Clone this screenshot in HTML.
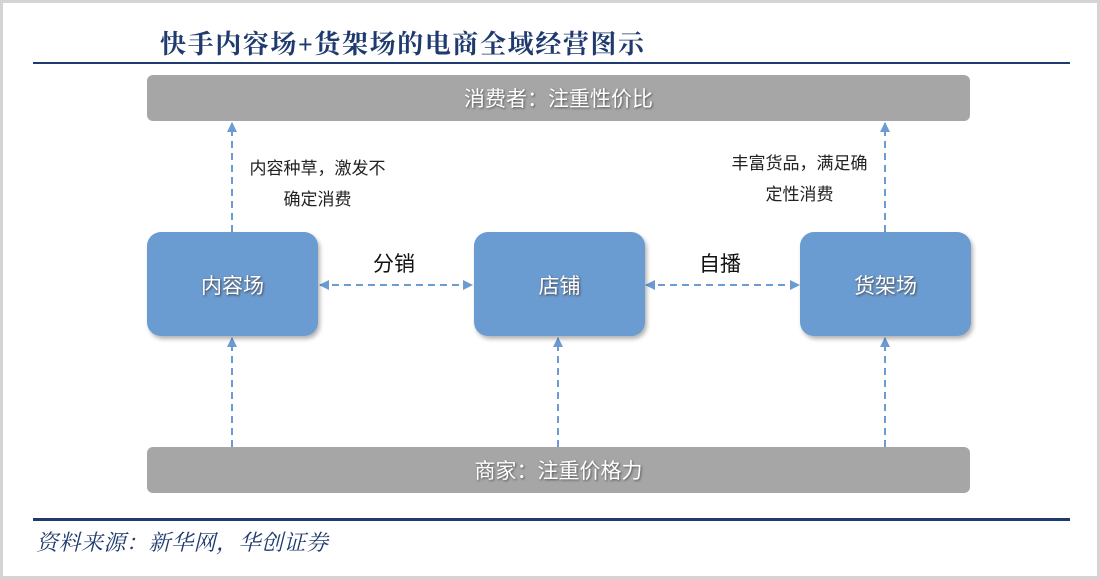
<!DOCTYPE html>
<html><head><meta charset="utf-8"><style>
body{margin:0;width:1100px;height:579px;background:#fff;position:relative;overflow:hidden;font-family:"Liberation Sans","Noto Sans CJK SC",sans-serif}
.frame{position:absolute;left:0;top:0;width:1094px;height:573px;border:3px solid #d4d4d4}
.title{position:absolute;left:160px;top:24px;font-family:"Liberation Serif","Noto Serif CJK SC",serif;font-weight:bold;font-size:26px;color:#1f3a6e;letter-spacing:1.6px}
.hl{position:absolute;left:33px;width:1037px;background:#1f3a6e}
.bar{position:absolute;left:147px;width:823px;height:46px;background:#a6a6a6;border-radius:6px;color:#fff;font-size:21px;text-align:center;line-height:50px;text-shadow:1px 1px 2px #555}
.box{position:absolute;top:232px;width:171px;height:104px;background:#6a9bd1;border-radius:14px;color:#fff;font-size:21px;text-align:center;line-height:110px;box-shadow:2px 3px 4px rgba(0,0,0,.3);text-shadow:1px 1px 2px #444}
.t{position:absolute;font-size:17px;color:#222;line-height:31px;text-align:center}
.lab{position:absolute;font-size:21px;color:#111}
.src{position:absolute;left:36px;top:526px;font-family:"Liberation Serif","Noto Serif CJK SC",serif;font-style:italic;font-size:22px;color:#1f3a6e;letter-spacing:0.5px}
</style></head><body>
<div class="frame"></div>
<div class="title">快手内容场+货架场的电商全域经营图示</div>
<div class="hl" style="top:62px;height:2px"></div>
<div class="bar" style="top:75px">消费者：注重性价比</div>
<div class="bar" style="top:447px">商家：注重价格力</div>
<svg style="position:absolute;left:0;top:0" width="1100" height="579">
<defs>
<marker id="a" markerWidth="10" markerHeight="10" refX="9" refY="5" orient="auto" markerUnits="userSpaceOnUse"><path d="M0,0L10,5L0,10z" fill="#6a9bd1"/></marker>
<marker id="b" markerWidth="10" markerHeight="10" refX="1" refY="5" orient="auto" markerUnits="userSpaceOnUse"><path d="M10,0L0,5L10,10z" fill="#6a9bd1"/></marker>
</defs>
<g stroke="#6a9bd1" stroke-width="2" stroke-dasharray="7,5" fill="none">
<line x1="232" y1="232" x2="232" y2="123" marker-end="url(#a)"/>
<line x1="885" y1="232" x2="885" y2="123" marker-end="url(#a)"/>
<line x1="232" y1="447" x2="232" y2="338" marker-end="url(#a)"/>
<line x1="558" y1="447" x2="558" y2="338" marker-end="url(#a)"/>
<line x1="885" y1="447" x2="885" y2="338" marker-end="url(#a)"/>
<line x1="320" y1="285" x2="472" y2="285" marker-start="url(#b)" marker-end="url(#a)"/>
<line x1="646" y1="285" x2="799" y2="285" marker-start="url(#b)" marker-end="url(#a)"/>
</g></svg>
<div class="box" style="left:147px">内容场</div>
<div class="box" style="left:474px">店铺</div>
<div class="box" style="left:800px">货架场</div>
<div class="t" style="left:240px;top:153px;width:155px">内容种草，激发不<br>确定消费</div>
<div class="t" style="left:722px;top:148px;width:155px">丰富货品，满足确<br>定性消费</div>
<div class="lab" style="left:373px;top:248px">分销</div>
<div class="lab" style="left:699px;top:248px">自播</div>
<div class="hl" style="top:518px;height:3px"></div>
<div class="src">资料来源：新华网，华创证券</div>
</body></html>
